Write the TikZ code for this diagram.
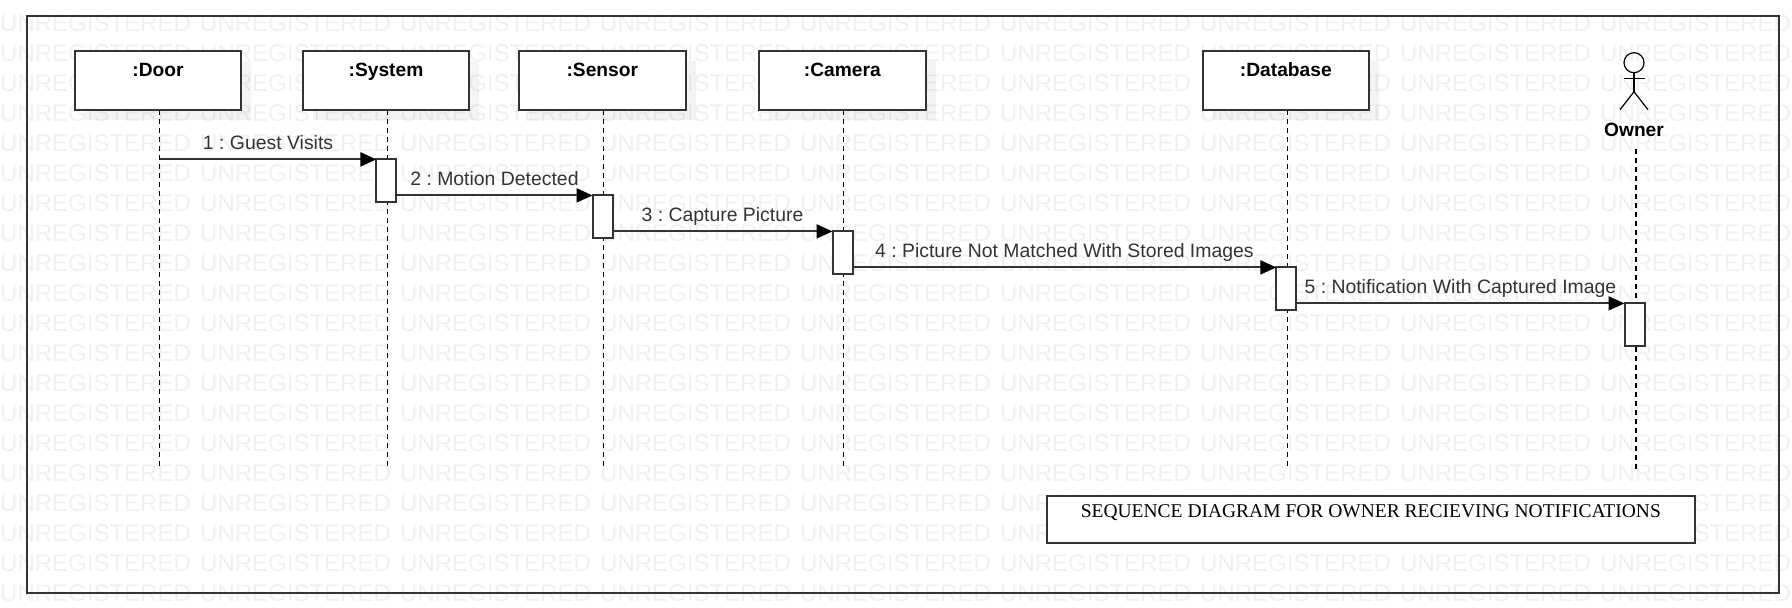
\documentclass[tikz,border=0pt]{standalone}
\usepackage{fontspec}
\setmainfont{Liberation Sans}
\newfontfamily\titlefont{Liberation Serif}
\usetikzlibrary{arrows.meta}
\definecolor{edgegrey}{HTML}{333333}
\definecolor{shadowgrey}{HTML}{F4F4F4}
\frenchspacing
\tikzset{
  x=1pt, y=-1pt,
  markword/.style={anchor=base west, inner sep=0pt, black, text opacity=0.06, font=\fontsize{24}{24}\selectfont},
  objbox/.style={draw=edgegrey, line width=2pt, fill=white, anchor=north west, minimum width=166.6pt, inner sep=0pt, outer sep=0pt,
    text height=25pt, text depth=33.6pt, font=\fontsize{19.2}{19.2}\selectfont\bfseries},
  objshadow/.style={fill=shadowgrey, draw=none, anchor=north west, minimum width=166.6pt, minimum height=58.6pt, inner sep=0pt, outer sep=0pt},
  activation/.style={draw=edgegrey, line width=2pt, fill=white, minimum width=20pt, minimum height=42.4pt, inner sep=0pt, outer sep=0pt, anchor=north},
  lifeline/.style={black, line width=1.2pt, dash pattern=on 5pt off 4pt},
  msg/.style={edgegrey, line width=2pt, -{Triangle[length=16pt,width=14pt,black]}},
  msglabel/.style={midway, anchor=base, yshift=10pt, inner sep=0pt, text=edgegrey, font=\fontsize{19.4}{19.4}\selectfont}
}
\begin{document}
\begin{tikzpicture}
\useasboundingbox (0,-0.7) rectangle (1792,607.3);
% shadows
\node[objshadow] (s0) at (84.7,60.7) {};
\node[objshadow] (s1) at (312.7,60.7) {};
\node[objshadow] (s2) at (529,60.7) {};
\node[objshadow] (s3) at (769,60.7) {};
\node[objshadow] (s4) at (1212.5,60.7) {};
% watermark
\foreach \row in {0,...,19}
  \foreach \col in {0,...,8}
    \node[markword] (w\row-\col) at (200*\col,30.5+30*\row) {UNREGISTERED};
% frame
\draw[edgegrey, line width=2pt] (27.3,15) rectangle (1778.7,592);
% objects
\node[objbox] (door) at (74.7,50.7) {:Door};
\node[objbox] (system) at (302.7,50.7) {:System};
\node[objbox] (sensor) at (519,50.7) {:Sensor};
\node[objbox] (camera) at (759,50.7) {:Camera};
\node[objbox] (database) at (1202.5,50.7) {:Database};
% actor
\node[circle, draw=black, line width=1.2pt, minimum size=20pt, inner sep=0pt, outer sep=0pt] (ownerhead) at (1634,62) {};
\coordinate (hip) at (1634,91);
\draw[black, line width=1.2pt] (ownerhead.south) -- (hip);
\draw[black, line width=1.2pt] (1624,78) -- (1645,78);
\draw[black, line width=1.2pt] (1620,109) -- (hip) -- (1648,109);
\node[inner sep=0pt, font=\fontsize{19.2}{19.2}\selectfont\bfseries] (owner) at (1634,129) {Owner};
% lifelines
\coordinate (v0) at (159.7,469);
\coordinate (v1) at (387.7,469);
\coordinate (v2) at (603.5,469);
\coordinate (v3) at (843.5,469);
\coordinate (v4) at (1287.5,469);
\coordinate (v5) at (1636,469);
\draw[lifeline] (v0 |- door.south) -- (v0);
\draw[lifeline] (v1 |- system.south) -- (v1);
\draw[lifeline] (v2 |- sensor.south) -- (v2);
\draw[lifeline] (v3 |- camera.south) -- (v3);
\draw[lifeline] (v4 |- database.south) -- (v4);
\draw[lifeline] (v5 |- owner.south) ++(0,12) -- (v5);
% activations
\node[activation] (a1) at (386.4,158.7) {};
\node[activation] (a2) at (602.5,194.7) {};
\node[activation] (a3) at (842.5,230.7) {};
\node[activation] (a4) at (1286.3,266.7) {};
\node[activation] (a5) at (1634.5,302.7) {};
% messages
\draw[msg] (v0 |- a1.north) -- (a1.north west) node[msglabel] (m1) {1 : Guest Visits};
\draw[msg] (a1.east |- a2.north) -- (a2.north west) node[msglabel] (m2) {2 : Motion Detected};
\draw[msg] (a2.east |- a3.north) -- (a3.north west) node[msglabel] (m3) {3 : Capture Picture};
\draw[msg] (a3.east |- a4.north) -- (a4.north west) node[msglabel] (m4) {4 : Picture Not Matched With Stored Images};
\draw[msg] (a4.east |- a5.north) -- (a5.north west) node[msglabel] (m5) {5 : Notification With Captured Image};
% title
\node[draw=edgegrey, line width=2pt, fill=white, anchor=north west, minimum width=648.3pt, inner sep=0pt, outer sep=0pt,
  text height=21.7pt, text depth=25.3pt, font=\titlefont\fontsize{19.5}{19.5}\selectfont] (title) at (1046.7,495) {SEQUENCE DIAGRAM FOR OWNER RECIEVING NOTIFICATIONS};
\end{tikzpicture}
\end{document}
